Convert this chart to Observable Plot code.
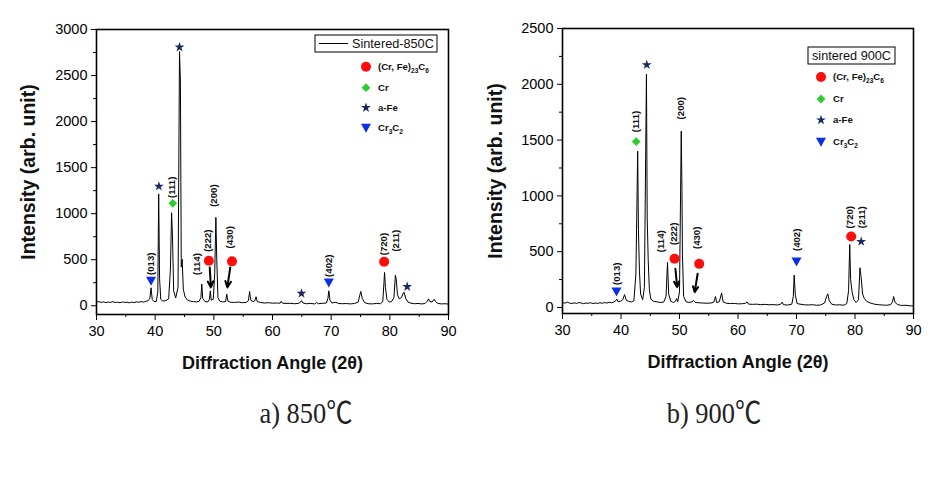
<!DOCTYPE html>
<html>
<head>
<meta charset="utf-8">
<script src="https://cdn.jsdelivr.net/npm/d3@7"></script>
<script src="https://cdn.jsdelivr.net/npm/@observablehq/plot@0.6"></script>
<style>
  body { margin: 0; background: #fff; }
  #wrap { position: relative; width: 950px; height: 479px; background: #fff; overflow: hidden; }
  #panels { display: flex; }
  .cap { position: absolute; top: 399px; line-height: 28px; font-size: 30px; white-space: nowrap;
         font-family: "Liberation Serif", "Noto Sans CJK KR", serif; color: #222;
         transform: translateX(-50%) scaleX(0.88); transform-origin: center; }
</style>
</head>
<body>
<div id="wrap">
  <div id="panels"></div>
  <div class="cap" id="capA" style="left:306px">a) 850℃</div>
  <div class="cap" id="capB" style="left:714px">b) 900℃</div>
</div>
<script>
// ---------- shared axis ticks ----------
const xTicks = [30, 40, 50, 60, 70, 80, 90];
const xMinor = [35, 45, 55, 65, 75, 85];
const yTicks850 = [0, 500, 1000, 1500, 2000, 2500, 3000];
const yMinor850 = [250, 750, 1250, 1750, 2250, 2750];
const yTicks900 = [0, 500, 1000, 1500, 2000, 2500];
const yMinor900 = [250, 750, 1250, 1750, 2250];

// ---------- a) sintered 850C pattern ----------
const angle850 = [30.0,30.4,30.8,31.2,31.6,32.0,32.4,32.8,33.2,33.6,34.0,34.4,34.8,35.2,35.6,36.0,36.4,36.8,37.2,37.6,38.0,38.4,38.8,39.1,39.3,39.5,39.8,40.2,40.45,40.6,40.75,40.95,41.3,41.8,42.3,42.6,42.8,42.95,43.15,43.5,43.9,44.15,44.3,44.45,44.6,44.8,45.1,45.5,46.0,46.5,47.0,47.5,47.8,47.95,48.1,48.5,49.0,49.25,49.4,49.55,49.9,50.15,50.35,50.5,50.7,51.0,51.5,52.0,52.2,52.4,52.8,53.5,54.2,54.9,55.5,55.9,56.1,56.3,56.7,57.0,57.2,57.4,58.0,58.6,59.3,60.0,60.7,61.3,61.5,61.7,62.3,63.0,63.7,64.4,64.8,64.95,65.2,65.8,66.5,67.2,67.5,67.8,68.5,69.2,69.45,69.6,69.8,70.1,70.8,71.2,71.9,72.6,73.3,74.0,74.6,74.9,75.05,75.3,75.7,76.3,77.0,77.7,78.4,78.8,79.0,79.1,79.25,79.5,79.9,80.3,80.7,80.95,81.1,81.3,81.6,82.0,82.3,82.45,82.7,83.1,83.6,84.2,84.8,85.4,86.0,86.4,86.6,86.8,87.2,87.55,87.8,88.2,88.8,89.4,90.0];
const intensity850 = [38,45,36,42,34,40,37,44,35,39,33,41,36,38,32,40,35,42,38,45,40,48,55,80,195,70,45,48,150,1215,300,70,52,55,75,400,1010,760,160,85,200,2760,2440,420,505,180,95,62,50,45,42,48,90,235,80,45,42,70,162,60,70,350,960,500,90,50,42,45,126,50,38,36,40,33,36,55,155,60,45,55,98,45,35,30,33,28,30,28,48,28,25,27,22,25,40,55,30,22,25,20,35,22,26,30,80,162,60,30,38,25,22,24,20,25,40,120,155,80,35,22,20,25,22,45,250,362,200,70,40,45,90,333,280,120,75,90,140,145,80,40,28,22,25,20,24,50,75,45,40,70,45,25,20,22,18];

// ---------- b) sintered 900C pattern ----------
const angle900 = [30.0,30.4,30.8,31.2,31.6,32.0,32.4,32.8,33.2,33.6,34.0,34.4,34.8,35.2,35.6,36.0,36.4,36.8,37.2,37.6,38.0,38.4,38.8,39.1,39.3,39.5,39.9,40.3,40.6,40.9,41.3,41.8,42.2,42.55,42.85,42.98,43.15,43.35,43.7,44.0,44.35,44.48,44.65,44.85,45.1,45.6,46.2,46.8,47.3,47.7,47.95,48.15,48.5,49.0,49.3,49.5,49.7,50.0,50.3,50.42,50.5,50.7,51.1,51.6,52.1,52.4,52.7,53.3,54.0,54.7,55.4,55.9,56.15,56.35,56.8,57.2,57.45,58.0,58.7,59.4,60.1,60.8,61.3,61.55,61.8,62.5,63.2,63.9,64.6,65.3,66.0,66.7,67.3,67.55,67.8,68.5,69.2,69.45,69.6,69.8,70.1,70.6,71.3,72.0,72.7,73.4,74.1,74.8,75.15,75.35,75.6,76.0,76.7,77.4,78.1,78.6,78.9,79.1,79.25,79.5,79.8,80.2,80.6,80.85,81.05,81.3,81.6,82.0,82.6,83.3,84.0,84.7,85.4,86.1,86.4,86.6,86.85,87.3,88.0,88.7,89.4,90.0];
const intensity900 = [45,38,48,40,35,42,36,44,40,34,40,37,43,35,40,36,42,38,44,40,46,42,50,60,75,52,55,70,115,65,55,50,60,300,1400,700,330,120,70,180,2090,800,425,160,75,55,50,45,48,100,405,120,55,45,55,80,52,140,1580,1050,480,100,52,45,50,62,45,42,40,38,40,50,98,45,50,130,50,38,35,36,32,34,38,50,30,28,30,25,28,24,26,22,30,48,24,22,30,100,290,110,35,30,24,22,25,20,22,40,100,122,60,30,22,24,20,35,150,565,250,140,70,45,70,356,270,120,80,55,40,30,25,22,20,25,50,98,45,25,18,20,14,15];

// ---------- phase markers ----------
const markers850 = [
  {phase: "Cr3C2", x: 39.3, y: 272}, {phase: "a-Fe", x: 40.63, y: 1297},
  {phase: "Cr", x: 43.0, y: 1112}, {phase: "a-Fe", x: 44.15, y: 2808},
  {phase: "carbide", x: 49.15, y: 489}, {phase: "carbide", x: 53.1, y: 482},
  {phase: "a-Fe", x: 64.94, y: 134}, {phase: "Cr3C2", x: 69.6, y: 253},
  {phase: "carbide", x: 79.03, y: 478}, {phase: "a-Fe", x: 82.96, y: 207}
];
const markers900 = [
  {phase: "Cr3C2", x: 39.23, y: 143}, {phase: "Cr", x: 42.6, y: 1487},
  {phase: "a-Fe", x: 44.4, y: 2175}, {phase: "carbide", x: 49.15, y: 436},
  {phase: "carbide", x: 53.37, y: 391}, {phase: "Cr3C2", x: 70.0, y: 412},
  {phase: "carbide", x: 79.35, y: 636}, {phase: "a-Fe", x: 81.06, y: 591}
];

// ---------- Miller index labels ----------
const labels850 = [
  {t: "(013)", x: 39.3, y: 456}, {t: "(111)", x: 42.9, y: 1286}, {t: "(200)", x: 50.0, y: 1196},
  {t: "(114)", x: 47.2, y: 453}, {t: "(222)", x: 49.0, y: 707}, {t: "(430)", x: 52.8, y: 743},
  {t: "(402)", x: 69.6, y: 435}, {t: "(720)", x: 79.0, y: 670}, {t: "(211)", x: 81.1, y: 707}
];
const labels900 = [
  {t: "(013)", x: 39.35, y: 302}, {t: "(111)", x: 42.6, y: 1667}, {t: "(200)", x: 50.3, y: 1786},
  {t: "(114)", x: 46.8, y: 594}, {t: "(222)", x: 49.1, y: 660}, {t: "(430)", x: 52.96, y: 624},
  {t: "(402)", x: 70.1, y: 606}, {t: "(720)", x: 79.2, y: 809}, {t: "(211)", x: 81.2, y: 809}
];

// ---------- arrows ----------
const arrows850 = [{x1: 49.3, y1: 416, x2: 49.5, y2: 199}, {x1: 52.8, y1: 416, x2: 52.3, y2: 199}];
const arrows900 = [{x1: 49.3, y1: 347, x2: 49.6, y2: 182}, {x1: 53.1, y1: 302, x2: 52.6, y2: 137}];

// ---------- legend ----------
const phaseKeys = ["carbide", "Cr", "a-Fe", "Cr3C2"];
const phaseColors = {"carbide": "#ff0d0d", "Cr": "#2ecc2e", "a-Fe": "#1b2a5e", "Cr3C2": "#0b2fe6"};

// symbols (R = radius derived from the Plot dot area)
const symCircle = {draw(ctx, size) { const R = Math.sqrt(size / Math.PI); ctx.moveTo(R, 0); ctx.arc(0, 0, R, 0, 2 * Math.PI); }};
const symDiamond = {draw(ctx, size) { const R = Math.sqrt(size / Math.PI); ctx.moveTo(0, -R); ctx.lineTo(R, 0); ctx.lineTo(0, R); ctx.lineTo(-R, 0); ctx.closePath(); }};
const symTri = {draw(ctx, size) { const R = Math.sqrt(size / Math.PI); ctx.moveTo(-R, -0.8 * R); ctx.lineTo(R, -0.8 * R); ctx.lineTo(0, R); ctx.closePath(); }};
const symStar = {draw(ctx, size) { const R = Math.sqrt(size / Math.PI); d3.symbolStar.draw(ctx, R * R * 1.13); }};
const phaseSym = {"carbide": [symCircle, 5], "Cr": [symDiamond, 4.4], "a-Fe": [symStar, 5.2], "Cr3C2": [symTri, 5]};

function addLegend(svg, L) {
  const g = d3.select(svg).append("g").attr("font-family", "Liberation Sans, Arial, sans-serif");
  g.append("rect").attr("x", L.bx).attr("y", L.by).attr("width", L.bw).attr("height", L.bh)
    .attr("fill", "white").attr("stroke", "black").attr("stroke-width", 1);
  if (L.line) {
    g.append("line").attr("x1", L.line[0]).attr("x2", L.line[1]).attr("y1", L.by + L.bh / 2).attr("y2", L.by + L.bh / 2)
      .attr("stroke", "black").attr("stroke-width", 1);
  }
  g.append("text").attr("x", L.tx).attr("y", L.by + L.bh / 2).attr("dy", "0.36em")
    .attr("text-anchor", L.tanchor).attr("font-size", 12.7).attr("fill", "#111").text(L.title);
  phaseKeys.forEach((k, i) => {
    const [s, r] = phaseSym[k];
    const cy = L.ey[i];
    g.append("path").attr("transform", `translate(${L.ex},${cy})`)
      .attr("d", d3.symbol(s, Math.PI * r * r)()).attr("fill", phaseColors[k]);
    const t = g.append("text").attr("x", L.ex + 12).attr("y", cy).attr("dy", "0.36em")
      .attr("text-anchor", "start")
      .attr("font-size", 9.6).attr("font-weight", "bold").attr("fill", "#111");
    if (k === "carbide") {
      t.append("tspan").text("(Cr, Fe)");
      t.append("tspan").attr("font-size", 6.5).attr("dy", 2.5).text("23");
      t.append("tspan").attr("dy", -2.5).text("C");
      t.append("tspan").attr("font-size", 6.5).attr("dy", 2.5).text("6");
    } else if (k === "Cr3C2") {
      t.append("tspan").text("Cr");
      t.append("tspan").attr("font-size", 6.5).attr("dy", 2.5).text("3");
      t.append("tspan").attr("dy", -2.5).text("C");
      t.append("tspan").attr("font-size", 6.5).attr("dy", 2.5).text("2");
    } else {
      t.text(k);
    }
  });
}

function panel(cfg) {
  const data = cfg.angle.map((a, i) => ({a, v: cfg.intensity[i]}));
  const dotMarks = phaseKeys.map(k => Plot.dot(cfg.markers.filter(d => d.phase === k), {
    x: "x", y: "y", symbol: phaseSym[k][0], r: phaseSym[k][1], fill: phaseColors[k], stroke: "none"
  }));
  const svg = Plot.plot({
    width: 475, height: 380,
    marginLeft: cfg.ml, marginRight: cfg.mr, marginTop: cfg.mt, marginBottom: cfg.mb,
    style: {fontFamily: "Liberation Sans, Arial, sans-serif", color: "black", background: "white", overflow: "visible"},
    x: {domain: [30, 90]},
    y: {domain: cfg.ydom},
    marks: [
      Plot.line(data, {x: "a", y: "v", stroke: "black", strokeWidth: 1}),
      Plot.frame({stroke: "black", strokeWidth: 1.6}),
      Plot.axisX(xTicks, {tickSize: 6, tickPadding: 5, fontSize: 14.5, label: null, tickFormat: d => String(d)}),
      Plot.axisX(xMinor, {tickSize: 3, label: null, tickFormat: () => ""}),
      Plot.axisY(cfg.yTicks, {tickSize: 5, tickPadding: 4, fontSize: 14.5, label: null, tickFormat: d => String(d)}),
      Plot.axisY(cfg.yMinor, {tickSize: 3, label: null, tickFormat: () => ""}),
      Plot.arrow(cfg.arrows, {x1: "x1", y1: "y1", x2: "x2", y2: "y2", stroke: "black", strokeWidth: 2, headLength: 7, headAngle: 50}),
      ...dotMarks,
      Plot.text(cfg.labels, {x: "x", y: "y", text: "t", rotate: -90, fontSize: 9.6, fontWeight: "bold", fill: "#111"}),
      Plot.text(["Diffraction Angle (2θ)"], {frameAnchor: "bottom", dy: 49, lineAnchor: "middle", textAnchor: "middle", fontSize: 18, fontWeight: "bold", fill: "#111"}),
      Plot.text(["Intensity (arb. unit)"], {frameAnchor: "left", dx: cfg.ydx, rotate: -90, lineAnchor: "middle", textAnchor: "middle", fontSize: 19.5, fontWeight: "bold", fill: "#111"})
    ]
  });
  addLegend(svg, cfg.legend);
  return svg;
}

const panels = document.getElementById("panels");
panels.appendChild(panel({
  angle: angle850, intensity: intensity850, markers: markers850, labels: labels850, arrows: arrows850,
  ml: 96, mr: 27, mt: 29, mb: 66, ydom: [-95, 3000], yTicks: yTicks850, yMinor: yMinor850, ydx: -68,
  legend: {bx: 315, by: 35, bw: 122, bh: 17, line: [319, 348], tx: 352, tanchor: "start", title: "Sintered-850C",
           ex: 366, ey: [66.7, 87.7, 107.7, 127.7]}
}));
panels.appendChild(panel({
  angle: angle900, intensity: intensity900, markers: markers900, labels: labels900, arrows: arrows900,
  ml: 87, mr: 37, mt: 28, mb: 67, ydom: [-54, 2500], yTicks: yTicks900, yMinor: yMinor900, ydx: -67,
  legend: {bx: 333, by: 47, bw: 87, bh: 17, line: null, tx: 376.5, tanchor: "middle", title: "sintered 900C",
           ex: 346, ey: [77, 99, 120, 141.7]}
}));
</script>
</body>
</html>
